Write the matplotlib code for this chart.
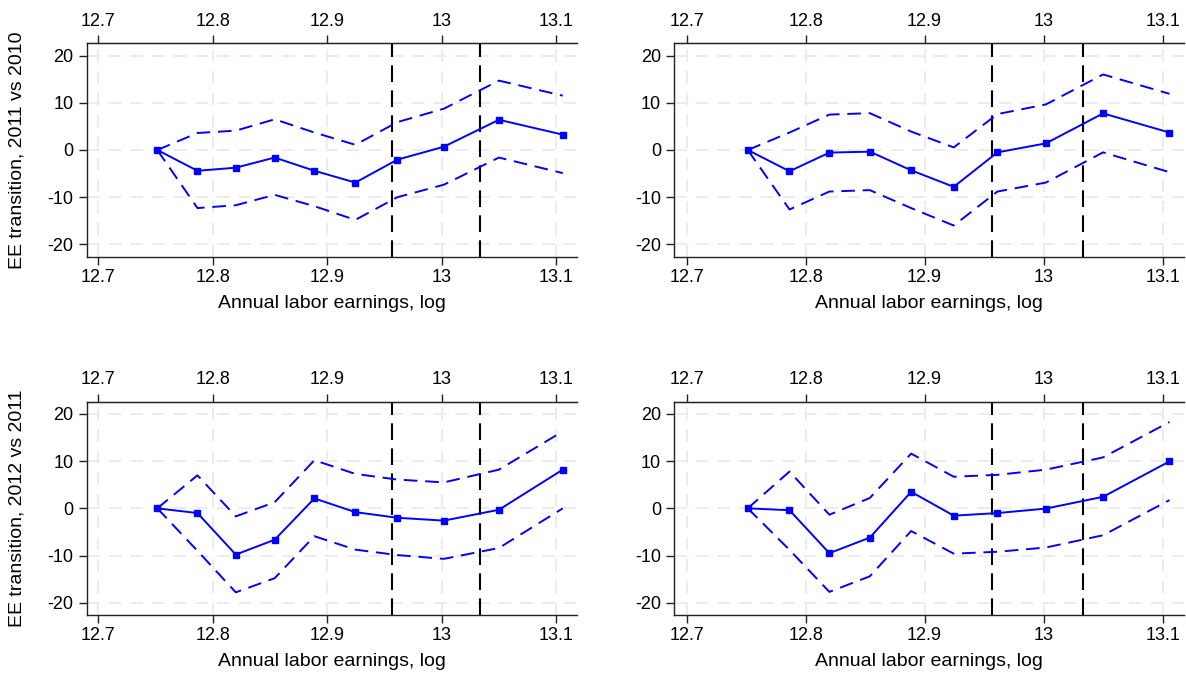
import matplotlib
matplotlib.use("Agg")
import matplotlib.pyplot as plt

plt.rcParams['font.family'] = ['Liberation Sans', 'DejaVu Sans']
plt.rcParams['axes.unicode_minus'] = False

# earnings bins (log)
x = [12.7514, 12.7865, 12.820, 12.854, 12.8887, 12.9245, 12.9612, 13.0019, 13.050, 13.1058]
vlines = [12.9568, 13.0333]

# top-left
tl_est = [0, -4.4, -3.75, -1.6, -4.4, -6.9, -2.05, 0.7, 6.4, 3.25]
tl_hi = [0, 3.6, 4.1, 6.5, 3.7, 1.1, 5.9, 8.75, 14.7, 11.5]
tl_lo = [0, -12.3, -11.7, -9.5, -11.9, -14.8, -10.0, -7.35, -1.6, -4.9]
# top-right
tr_est = [0, -4.5, -0.55, -0.35, -4.3, -7.8, -0.5, 1.4, 7.75, 3.7]
tr_hi = [0, 3.7, 7.5, 7.8, 3.9, 0.55, 7.6, 9.65, 16.0, 11.9]
tr_lo = [0, -12.6, -8.8, -8.5, -12.3, -16.0, -8.8, -6.9, -0.5, -4.7]
# bottom-left
bl_est = [0, -1.0, -9.8, -6.65, 2.1, -0.8, -2.0, -2.6, -0.3, 8.2]
bl_hi = [0, 7.0, -1.7, 1.3, 10.2, 7.3, 6.1, 5.5, 8.2, 16.3]
bl_lo = [0, -9.0, -17.8, -14.8, -5.9, -8.75, -9.9, -10.7, -8.4, 0.0]
# bottom-right
br_est = [0, -0.4, -9.5, -6.2, 3.5, -1.55, -1.0, -0.05, 2.45, 9.95]
br_hi = [0, 7.8, -1.35, 2.2, 11.6, 6.7, 7.1, 8.2, 10.8, 18.3]
br_lo = [0, -8.8, -17.7, -14.4, -4.8, -9.6, -9.2, -8.3, -5.7, 1.75]

xticks = [12.7, 12.8, 12.9, 13.0, 13.1]
xticklabels = ["12.7", "12.8", "12.9", "13", "13.1"]
yticks = [-20, -10, 0, 10, 20]
ylabels = ["EE transition, 2011 vs 2010", "EE transition, 2012 vs 2011"]
xlabel = "Annual labor earnings, log"

W, H = 1186, 673
fig = plt.figure(figsize=(W / 100, H / 100), dpi=100)
fig.patch.set_facecolor("white")

BLUE = "#0000ff"
DARK = "#222222"


def px_axes(left, top, right, bottom):
    return fig.add_axes([left / W, 1 - bottom / H, (right - left) / W, (bottom - top) / H])


def draw(ax, est, hi, lo):
    for t in xticks:
        ax.axvline(t, color="#ebebeb", lw=1.3, ls=(0, (7, 5)), zorder=0)
    for t in yticks:
        ax.axhline(t, color="#ebebeb", lw=1.3, ls=(0, (7, 5)), zorder=0)
    for v in vlines:
        ax.axvline(v, color="black", lw=1.5, ls=(0, (8, 4)), zorder=1)
    ax.plot(x, hi, color=BLUE, lw=1.4, ls=(0, (7, 4)), zorder=2)
    ax.plot(x, lo, color=BLUE, lw=1.4, ls=(0, (7, 4)), zorder=2)
    ax.plot(x, est, color=BLUE, lw=1.4, marker="s", ms=4.8, zorder=3)
    ax.set_xlim(12.6897, 13.118)
    ax.set_ylim(-22.6, 22.6)
    ax.set_xticks(xticks)
    ax.set_xticklabels(xticklabels)
    ax.set_yticks(yticks)
    ax.tick_params(axis="both", direction="out", length=5.5, width=1, labelsize=13,
                   color=DARK, labelcolor="black")
    ax.tick_params(axis="x", pad=3)
    ax.tick_params(axis="y", pad=4)
    top = ax.secondary_xaxis("top")
    top.set_xticks(xticks)
    top.set_xticklabels(xticklabels)
    top.tick_params(direction="out", length=5.5, width=1, labelsize=13, pad=4.2,
                    color=DARK)
    top.spines["top"].set_color(DARK)
    ax.spines["right"].set_visible(False)
    for s in ["left", "top", "bottom"]:
        ax.spines[s].set_color(DARK)
        ax.spines[s].set_linewidth(1.0)
    ax.set_xlabel(xlabel, fontsize=14, labelpad=6.5)


ax1 = px_axes(86.7, 43.3, 576.7, 256.7)
draw(ax1, tl_est, tl_hi, tl_lo)
ax2 = px_axes(674.3, 43.3, 1184, 256.7)
draw(ax2, tr_est, tr_hi, tr_lo)
ax3 = px_axes(86.7, 401.7, 576.7, 615)
draw(ax3, bl_est, bl_hi, bl_lo)
ax4 = px_axes(674.3, 401.7, 1184, 615)
draw(ax4, br_est, br_hi, br_lo)

fig.text(17.5 / W, 1 - 150 / H, ylabels[0], rotation=90, ha="center", va="center", fontsize=14)
fig.text(17.5 / W, 1 - 508.3 / H, ylabels[1], rotation=90, ha="center", va="center", fontsize=14)

fig.savefig("out.png", dpi=100, facecolor="white")
